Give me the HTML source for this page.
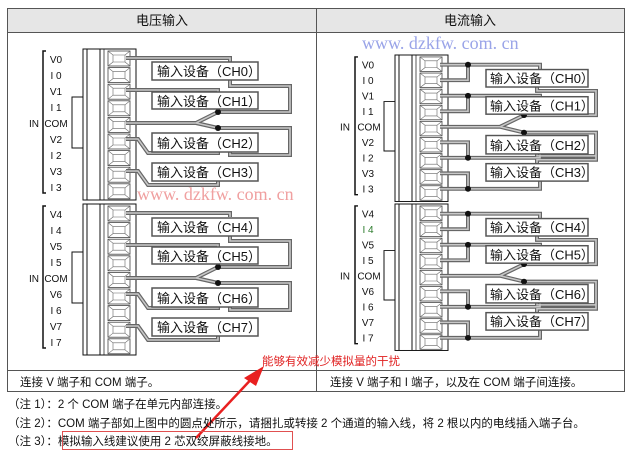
<!DOCTYPE html>
<html><head><meta charset="utf-8"><style>
body{margin:0;background:#fff;width:640px;height:454px;overflow:hidden}
svg{display:block;font-family:"Liberation Sans","Noto Sans CJK SC",sans-serif}
.lb{font-size:10px;fill:#111;text-anchor:middle}
.bx{fill:#fff;stroke:#555;stroke-width:1.5}
.bt{font-size:13px;fill:#111}
.wo{fill:none;stroke:#666;stroke-width:4;stroke-linejoin:miter}
.wi{fill:none;stroke:#c8c8c8;stroke-width:1.6}
.cell{fill:#fff;stroke:#444;stroke-width:0.8}
</style></head><body>
<svg width="640" height="454" viewBox="0 0 640 454">
<defs>
<g id="term">
 <path d="M46,2H43V144H46" fill="none" stroke="#111" stroke-width="1.5"/>
 <path d="M83,48H72V99H83" fill="none" stroke="#111" stroke-width="1"/>
 <rect x="83" y="0" width="53" height="151" fill="#fff" stroke="#111" stroke-width="1"/>
 <line x1="87" y1="0" x2="87" y2="151" stroke="#111"/>
 <line x1="100" y1="0" x2="100" y2="151" stroke="#111"/>
 <line x1="104" y1="0" x2="104" y2="151" stroke="#111" stroke-width="0.7"/>
 <g id="c9">
  <g id="c1"><rect class="cell" x="108" y="2" width="22" height="15"/><path d="M108,2L113,6H125L130,2M113,6V13H125V6M108,17L113,13M130,17L125,13" fill="none" stroke="#666" stroke-width="0.6"/></g>
  <use href="#c1" y="16.6"/><use href="#c1" y="33.2"/><use href="#c1" y="49.8"/><use href="#c1" y="66.4"/><use href="#c1" y="83"/><use href="#c1" y="99.6"/><use href="#c1" y="116.2"/><use href="#c1" y="132.8"/>
 </g>
</g>
</defs>

<rect x="7.5" y="8.5" width="617" height="383" fill="#fff" stroke="#555"/>
<rect x="8" y="9" width="616" height="23" fill="#e6e6e6"/>
<line x1="7" y1="32.5" x2="625" y2="32.5" stroke="#555"/>
<line x1="316.5" y1="8" x2="316.5" y2="392" stroke="#555"/>
<line x1="7" y1="370.5" x2="625" y2="370.5" stroke="#555"/>
<text x="162" y="25" font-size="13" text-anchor="middle" fill="#111">电压输入</text>
<text x="470" y="25" font-size="13" text-anchor="middle" fill="#111">电流输入</text>

<g transform="translate(0,49)">
 <use href="#term"/>
 <text x="34" y="78" class="lb">IN</text>
 <text class="lb" x="56" y="14">V0</text><text class="lb" x="56" y="30">I 0</text><text class="lb" x="56" y="46">V1</text><text class="lb" x="56" y="62">I 1</text><text class="lb" x="56" y="78">COM</text><text class="lb" x="56" y="94">V2</text><text class="lb" x="56" y="110">I 2</text><text class="lb" x="56" y="126">V3</text><text class="lb" x="56" y="142">I 3</text>
 <g class="wo"><path d="M126,9H230V13M230,31V37H290V63H218M126,41H218V43M218,59V63M126,74H196L218,63M196,74L218,79H290V106H230V103M126,90H138L148,104H218V103M126,122H138L148,136H218V132"/></g>
 <g class="wi"><path d="M126,9H230V13M230,31V37H290V63H218M126,41H218V43M218,59V63M126,74H196L218,63M196,74L218,79H290V106H230V103M126,90H138L148,104H218V103M126,122H138L148,136H218V132"/></g>
 <circle cx="218" cy="63" r="3" fill="#111"/><circle cx="218" cy="79" r="3" fill="#111"/>
 <rect class="bx" x="152" y="13" width="106" height="18"/><text class="bt" x="157" y="27">输入设备（CH0）</text>
 <rect class="bx" x="152" y="43" width="106" height="17"/><text class="bt" x="157" y="57">输入设备（CH1）</text>
 <rect class="bx" x="152" y="84" width="106" height="19"/><text class="bt" x="157" y="99">输入设备（CH2）</text>
 <rect class="bx" x="152" y="114" width="106" height="18"/><text class="bt" x="157" y="128">输入设备（CH3）</text>
</g>
<g transform="translate(0,204)">
 <use href="#term"/>
 <text x="34" y="78" class="lb">IN</text>
 <text class="lb" x="56" y="14">V4</text><text class="lb" x="56" y="30">I 4</text><text class="lb" x="56" y="46">V5</text><text class="lb" x="56" y="62">I 5</text><text class="lb" x="56" y="78">COM</text><text class="lb" x="56" y="94">V6</text><text class="lb" x="56" y="110">I 6</text><text class="lb" x="56" y="126">V7</text><text class="lb" x="56" y="142">I 7</text>
 <g class="wo"><path d="M126,9H230V13M230,31V37H290V63H218M126,41H218V43M218,59V63M126,74H196L218,63M196,74L218,79H290V106H230V103M126,90H138L148,104H218V103M126,122H138L148,136H218V132"/></g>
 <g class="wi"><path d="M126,9H230V13M230,31V37H290V63H218M126,41H218V43M218,59V63M126,74H196L218,63M196,74L218,79H290V106H230V103M126,90H138L148,104H218V103M126,122H138L148,136H218V132"/></g>
 <circle cx="218" cy="63" r="3" fill="#111"/><circle cx="218" cy="79" r="3" fill="#111"/>
 <rect class="bx" x="152" y="14" width="106" height="18"/><text class="bt" x="157" y="28">输入设备（CH4）</text>
 <rect class="bx" x="152" y="43" width="106" height="17"/><text class="bt" x="157" y="57">输入设备（CH5）</text>
 <rect class="bx" x="152" y="84" width="106" height="19"/><text class="bt" x="157" y="99">输入设备（CH6）</text>
 <rect class="bx" x="152" y="114" width="106" height="18"/><text class="bt" x="157" y="128">输入设备（CH7）</text>
</g>

<g transform="translate(0,55) scale(1,0.97)">
 <g transform="translate(312,0)"><use href="#term"/>
 <text x="33" y="78" class="lb">IN</text>
 <text class="lb" x="56" y="14">V0</text><text class="lb" x="56" y="30">I 0</text><text class="lb" x="56" y="46">V1</text><text class="lb" x="56" y="62">I 1</text><text class="lb" x="57" y="78">COM</text><text class="lb" x="56" y="94">V2</text><text class="lb" x="56" y="110">I 2</text><text class="lb" x="56" y="126">V3</text><text class="lb" x="56" y="142">I 3</text></g>
 <g class="wo"><path d="M440,10H540V16M440,26H468V10M537,33V37H596V62H524M440,42H540V43M440,58H468V42M524,60V62M440,74H500L524,62M500,74L524,80H596V104H537V101M440,90H468V106M440,106H540V101M440,122H468V138M440,138H540V130M537,112V108H596V104"/></g>
 <g class="wi"><path d="M440,10H540V16M440,26H468V10M537,33V37H596V62H524M440,42H540V43M440,58H468V42M524,60V62M440,74H500L524,62M500,74L524,80H596V104H537V101M440,90H468V106M440,106H540V101M440,122H468V138M440,138H540V130M537,112V108H596V104"/></g>
 <circle cx="468" cy="10" r="3" fill="#111"/><circle cx="468" cy="42" r="3" fill="#111"/><circle cx="524" cy="62" r="3" fill="#111"/><circle cx="524" cy="80" r="3" fill="#111"/><circle cx="468" cy="106" r="3" fill="#111"/><circle cx="468" cy="138" r="3" fill="#111"/>
 <rect class="bx" x="486" y="15" width="102" height="18"/><text class="bt" x="490" y="29">输入设备（CH0）</text>
 <rect class="bx" x="486" y="43" width="102" height="18"/><text class="bt" x="490" y="57">输入设备（CH1）</text>
 <rect class="bx" x="486" y="83" width="102" height="19"/><text class="bt" x="490" y="98">输入设备（CH2）</text>
 <rect class="bx" x="486" y="112" width="102" height="18"/><text class="bt" x="490" y="126">输入设备（CH3）</text>
</g>
<g transform="translate(0,204) scale(1,0.97)">
 <g transform="translate(312,0)"><use href="#term"/>
 <text x="33" y="78" class="lb">IN</text>
 <text class="lb" x="56" y="14">V4</text><text class="lb" x="56" y="30" style="fill:#2a7a2a">I 4</text><text class="lb" x="56" y="46">V5</text><text class="lb" x="56" y="62">I 5</text><text class="lb" x="57" y="78">COM</text><text class="lb" x="56" y="94">V6</text><text class="lb" x="56" y="110">I 6</text><text class="lb" x="56" y="126">V7</text><text class="lb" x="56" y="142">I 7</text></g>
 <g class="wo"><path d="M440,10H540V16M440,26H468V10M537,33V37H596V62H524M440,42H540V43M440,58H468V42M524,60V62M440,74H500L524,62M500,74L524,80H596V104H537V101M440,90H468V106M440,106H540V101M440,122H468V138M440,138H540V130M537,112V108H596V104"/></g>
 <g class="wi"><path d="M440,10H540V16M440,26H468V10M537,33V37H596V62H524M440,42H540V43M440,58H468V42M524,60V62M440,74H500L524,62M500,74L524,80H596V104H537V101M440,90H468V106M440,106H540V101M440,122H468V138M440,138H540V130M537,112V108H596V104"/></g>
 <circle cx="468" cy="10" r="3" fill="#111"/><circle cx="468" cy="42" r="3" fill="#111"/><circle cx="524" cy="62" r="3" fill="#111"/><circle cx="524" cy="80" r="3" fill="#111"/><circle cx="468" cy="106" r="3" fill="#111"/><circle cx="468" cy="138" r="3" fill="#111"/>
 <rect class="bx" x="486" y="15" width="102" height="18"/><text class="bt" x="490" y="29">输入设备（CH4）</text>
 <rect class="bx" x="486" y="43" width="102" height="18"/><text class="bt" x="490" y="57">输入设备（CH5）</text>
 <rect class="bx" x="486" y="83" width="102" height="19"/><text class="bt" x="490" y="98">输入设备（CH6）</text>
 <rect class="bx" x="486" y="112" width="102" height="18"/><text class="bt" x="490" y="126">输入设备（CH7）</text>
</g>

<text x="362" y="49" font-family="Liberation Serif,serif" font-size="18" fill="#9aa4e8">www. dzkfw. com. cn</text>
<text x="137" y="200" font-family="Liberation Serif,serif" font-size="18" fill="#f0a0a0">www. dzkfw. com. cn</text>

<text x="262" y="365" font-size="11.5" fill="#e02020">能够有效减少模拟量的干扰</text>
<line x1="196" y1="438" x2="258" y2="372" stroke="#e82020" stroke-width="2.5"/>
<polygon points="264,366 244,378 256,386" fill="#e82020"/>

<text x="20" y="386" font-size="11.5" fill="#111">连接 V 端子和 COM 端子。</text>
<text x="330" y="386" font-size="11.5" fill="#111">连接 V 端子和 I 端子，以及在 COM 端子间连接。</text>
<text x="8" y="408" font-size="11.5" fill="#111">（注 1）：2 个 COM 端子在单元内部连接。</text>
<text x="8" y="427" font-size="11.5" fill="#111">（注 2）：COM 端子部如上图中的圆点处所示，请捆扎或转接 2 个通道的输入线，将 2 根以内的电线插入端子台。</text>
<text x="8" y="445" font-size="11.5" fill="#111">（注 3）：模拟输入线建议使用 2 芯双绞屏蔽线接地。</text>
<rect x="62.5" y="431.5" width="230" height="18" fill="none" stroke="#e05050" stroke-width="1"/>
</svg>
</body></html>
